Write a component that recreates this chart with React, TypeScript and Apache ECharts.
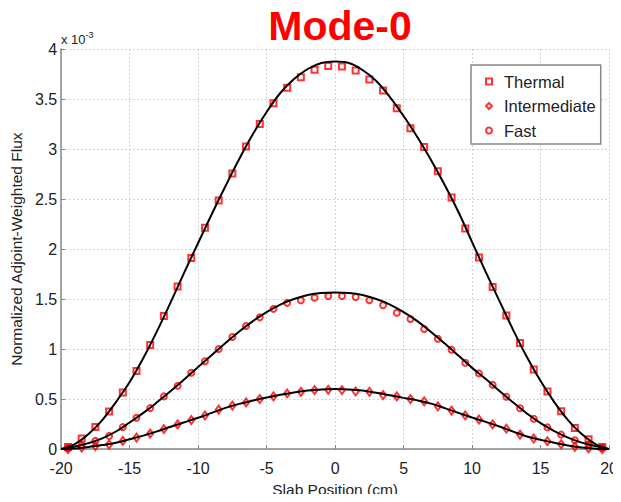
import React, { useEffect, useRef } from "react";
import * as echarts from "echarts";

// x positions (cm) of the marker points
const markerX = [
  -19.5, -18.5, -17.5, -16.5, -15.5, -14.5, -13.5, -12.5, -11.5, -10.5,
  -9.5, -8.5, -7.5, -6.5, -5.5, -4.5, -3.5, -2.5, -1.5, -0.5,
  0.5, 1.5, 2.5, 3.5, 4.5, 5.5, 6.5, 7.5, 8.5, 9.5,
  10.5, 11.5, 12.5, 13.5, 14.5, 15.5, 16.5, 17.5, 18.5, 19.5,
];

// marker values (x 10^-3)
const thermalMarks = [
  0.02, 0.105, 0.22, 0.375, 0.566, 0.78, 1.04, 1.33, 1.626, 1.91,
  2.212, 2.486, 2.755, 3.025, 3.25, 3.457, 3.612, 3.717, 3.793, 3.829,
  3.826, 3.786, 3.694, 3.585, 3.407, 3.207, 3.019, 2.779, 2.515, 2.205,
  1.915, 1.62, 1.336, 1.06, 0.797, 0.576, 0.378, 0.21, 0.099, 0.02,
];
const intermediateMarks = [
  0.0, 0.016, 0.03, 0.046, 0.082, 0.115, 0.155, 0.2, 0.247, 0.29,
  0.336, 0.395, 0.435, 0.467, 0.5, 0.527, 0.556, 0.573, 0.59, 0.593,
  0.59, 0.576, 0.573, 0.54, 0.527, 0.5, 0.477, 0.428, 0.385, 0.336,
  0.296, 0.247, 0.204, 0.145, 0.106, 0.079, 0.049, 0.023, 0.007, 0.0,
];
const fastMarks = [
  0.01, 0.04, 0.082, 0.132, 0.22, 0.313, 0.41, 0.527, 0.632, 0.764,
  0.879, 1.0, 1.12, 1.231, 1.317, 1.402, 1.462, 1.488, 1.514, 1.531,
  1.531, 1.52, 1.488, 1.439, 1.363, 1.3, 1.2, 1.103, 0.994, 0.863,
  0.757, 0.642, 0.523, 0.408, 0.303, 0.217, 0.145, 0.089, 0.046, 0.013,
];

// x positions (cm) of the solid reference curves
const lineX = [
  -20, -19, -18, -17, -16, -15, -14, -13, -12, -11, -10, -9, -8, -7, -6, -5, -4, -3, -2, -1,
  0, 1, 2, 3, 4, 5, 6, 7, 8, 9, 10, 11, 12, 13, 14, 15, 16, 17, 18, 19, 20,
];
const thermalLine = [
  0, 0.05, 0.15, 0.29, 0.47, 0.67, 0.91, 1.18, 1.47, 1.77, 2.06, 2.35, 2.63, 2.9, 3.15, 3.37, 3.56, 3.7, 3.8, 3.86,
  3.875, 3.86, 3.79, 3.68, 3.52, 3.33, 3.12, 2.89, 2.64, 2.37, 2.07, 1.77, 1.48, 1.19, 0.92, 0.68, 0.47, 0.29, 0.15, 0.05, 0,
];
const fastLine = [
  0, 0.025, 0.06, 0.107, 0.176, 0.266, 0.362, 0.468, 0.58, 0.698, 0.822, 0.94, 1.06, 1.176, 1.28, 1.37, 1.445, 1.5, 1.54, 1.56,
  1.565, 1.56, 1.54, 1.5, 1.445, 1.37, 1.28, 1.17, 1.055, 0.935, 0.812, 0.7, 0.58, 0.466, 0.356, 0.26, 0.18, 0.115, 0.065, 0.03, 0,
];
const intermediateLine = [
  0, 0.006, 0.022, 0.04, 0.063, 0.098, 0.135, 0.177, 0.223, 0.268, 0.313, 0.362, 0.412, 0.452, 0.485, 0.515, 0.543, 0.566, 0.585, 0.597,
  0.6, 0.597, 0.585, 0.563, 0.538, 0.512, 0.487, 0.455, 0.41, 0.362, 0.316, 0.272, 0.226, 0.175, 0.126, 0.092, 0.064, 0.036, 0.015, 0.004, 0,
];

const seriesNames = ["Thermal", "Intermediate", "Fast"];
const seriesSymbols = ["rect", "diamond", "circle"];

const FONT = "'Liberation Sans', Arial, Helvetica, sans-serif";

export default function App() {
  const ref = useRef<HTMLDivElement>(null);

  useEffect(() => {
    if (!ref.current) return;
    const chart = echarts.init(ref.current, undefined, { renderer: "svg" });

    const marks = [thermalMarks, intermediateMarks, fastMarks];
    const lines = [thermalLine, intermediateLine, fastLine];

    const scatterSeries = seriesNames.map((name, i) => ({
      name,
      type: "scatter",
      symbol: seriesSymbols[i],
      symbolSize: i === 1 ? [6, 8] : 6,
      data: markerX.map((x, k) => [x, marks[i][k]]),
      itemStyle: { color: "rgba(255,255,255,0)", borderColor: "#ff0000", borderWidth: 2 },
      z: 2,
    }));
    const lineSeries = seriesNames.map((name, i) => ({
      name: name + " curve",
      type: "line",
      smooth: 0.4,
      symbol: "none",
      data: lineX.map((x, k) => [x, lines[i][k]]),
      lineStyle: { color: "#000", width: 2 },
      z: 3,
    }));

    chart.setOption({
      animation: false,
      backgroundColor: "#fff",
      title: {
        text: "Mode-0",
        left: 335,
        textAlign: "center",
        top: 0,
        textStyle: { color: "#ff0000", fontSize: 41, fontWeight: "bold", fontFamily: FONT },
      },
      grid: { left: 60, right: 10, top: 49, bottom: 48, containLabel: false },
      legend: {
        data: seriesNames.map((n, i) => ({
          name: n,
          icon: seriesSymbols[i],
          itemStyle: { color: "rgba(255,255,255,0)", borderColor: "#ff0000", borderWidth: 2 },
        })),
        orient: "vertical",
        left: 471,
        top: 65,
        itemWidth: 6,
        itemHeight: 6,
        itemGap: 7.5,
        padding: [8, 5, 5, 14],
        backgroundColor: "#fff",
        borderColor: "#888",
        borderWidth: 1.5,
        borderRadius: 0,
        textStyle: { fontSize: 16.5, color: "#222", fontFamily: FONT, lineHeight: 17, padding: [0, 0, 0, 7] },
      },
      xAxis: {
        type: "value",
        min: -20,
        max: 20,
        interval: 5,
        name: "Slab Position (cm)",
        nameLocation: "middle",
        nameGap: 30,
        nameTextStyle: { fontSize: 15.5, color: "#222", fontFamily: FONT },
        axisLine: { onZero: false, lineStyle: { color: "#888", width: 1.5 } },
        axisTick: { inside: true, length: 4, lineStyle: { color: "#888" } },
        axisLabel: { fontSize: 16, color: "#222", fontFamily: FONT, margin: 11 },
        splitLine: { show: true, lineStyle: { color: "#c4c4c4", type: [1.5, 2.5], width: 1 } },
      },
      yAxis: {
        type: "value",
        min: 0,
        max: 4,
        interval: 0.5,
        name: "Normalized Adjoint-Weighted Flux",
        nameLocation: "middle",
        nameGap: 30,
        nameTextStyle: { fontSize: 15.5, color: "#222", fontFamily: FONT },
        axisLine: { show: true, onZero: false, lineStyle: { color: "#888", width: 1.5 } },
        axisTick: { show: true, inside: true, length: 4, lineStyle: { color: "#888" } },
        axisLabel: { fontSize: 16, color: "#222", fontFamily: FONT, margin: 4 },
        splitLine: { show: true, lineStyle: { color: "#c4c4c4", type: [1.5, 2.5], width: 1 } },
      },
      graphic: [
        {
          type: "text",
          left: 61,
          top: 30,
          style: {
            text: "{a|x 10}{b|-3}",
            rich: {
              a: { fontSize: 13, fill: "#222", fontFamily: FONT, verticalAlign: "bottom", lineHeight: 16 },
              b: { fontSize: 9, fill: "#222", fontFamily: FONT, verticalAlign: "top", lineHeight: 16 },
            },
          },
        },
      ],
      series: [...scatterSeries, ...lineSeries],
    });

    return () => chart.dispose();
  }, []);

  return <div ref={ref} style={{ width: 621, height: 502, margin: -8 }} />;
}
